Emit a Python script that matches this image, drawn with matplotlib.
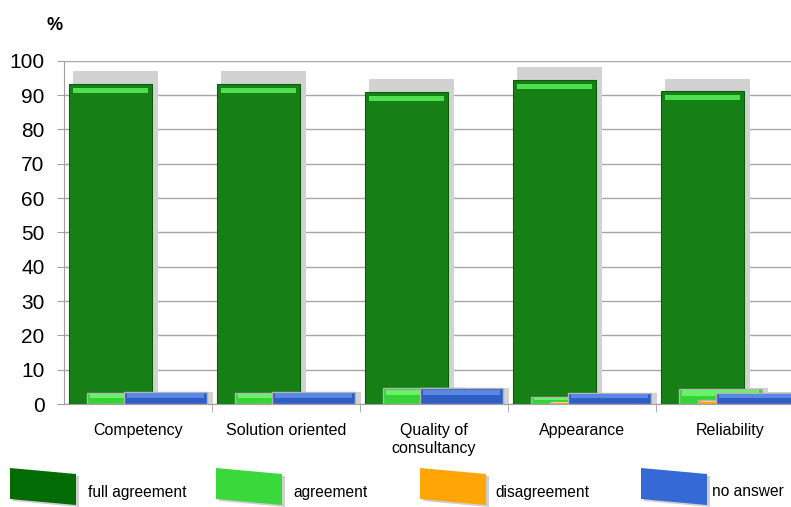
"""Satisfaction survey bar chart (full agreement / agreement / disagreement / no answer)."""
import matplotlib
matplotlib.use("Agg")
import matplotlib.pyplot as plt
import numpy as np
from matplotlib.patches import Polygon

plt.rcParams["font.family"] = ["Liberation Sans", "DejaVu Sans"]

categories = ["Competency", "Solution oriented", "Quality of\nconsultancy",
              "Appearance", "Reliability"]
series_names = ["full agreement", "agreement", "disagreement", "no answer"]
full_agreement = [93.3, 93.3, 90.9, 94.5, 91.1]
agreement = [3.3, 3.3, 4.6, 2.1, 4.5]
disagreement = [0.0, 0.0, 0.0, 0.6, 1.1]
no_answer = [3.4, 3.4, 4.6, 3.2, 3.3]

face = ["#168016", "#35d335", "#ffa200", "#2f5fc2"]
light = ["#4fe04f", "#6cf06c", "#ffd27a", "#5b88e6"]
legend_face = ["#036b03", "#3bd83b", "#ffa505", "#356ad6"]

fig = plt.figure(figsize=(7.91, 5.07), dpi=100)
ax = fig.add_axes([64 / 791, 103 / 507, 727 / 791, 343.3 / 507])

x = np.arange(len(categories))
width = 0.56
step = 0.125
values = [full_agreement, agreement, disagreement, no_answer]

# shadows first, behind everything
for k, vals in enumerate(values):
    v = np.array(vals)
    ax.bar(x + (k - 1.5) * step + 0.034, v * 1.04, width=0.575,
           color="#d2d2d2", linewidth=0, zorder=1)

for k, vals in enumerate(values):
    v = np.array(vals)
    pos = x + (k - 1.5) * step
    big = k == 0
    ax.bar(pos, v, width=width, color=face[k],
           edgecolor="#0d5c0d" if big else "#b4b4b4",
           linewidth=0.8 if big else 1.0, zorder=3 + k)
    if big:
        # bevel highlight near the top of the large bars
        ax.bar(pos, np.full_like(v, 1.4), bottom=v - 2.6, width=width - 0.05,
               color=light[k], linewidth=0, zorder=3 + k)
    else:
        ax.bar(pos, v * 0.35, bottom=v * 0.55, width=width - 0.04,
               color=light[k], linewidth=0, zorder=3 + k)

ax.set_xlim(-0.5, -0.5 + 727 / 148)
ax.set_ylim(0, 100)
ax.set_yticks(np.arange(0, 101, 10))
ax.tick_params(axis="y", labelsize=15, length=5, color="#a0a0a0", pad=9)
ax.set_xticks(x)
ax.set_xticklabels(categories, fontsize=11.5)
ax.set_xticks(x[:-1] + 0.5, minor=True)
ax.tick_params(axis="x", which="major", length=0, pad=14)
ax.tick_params(axis="x", which="minor", length=6, color="#a0a0a0")
ax.yaxis.grid(True, color="#a6a6a6", linewidth=1)
ax.set_axisbelow(True)
for s in ["top", "right"]:
    ax.spines[s].set_visible(False)
for s in ["left", "bottom"]:
    ax.spines[s].set_color("#a0a0a0")

fig.text(55 / 791, 1 - 25 / 507, "%", fontsize=13, fontweight="bold",
         ha="center", va="center")


def fx(px):
    return px / 791


def fy(py):
    return 1 - py / 507


# legend with skewed swatches
legend_x = [10, 216, 420, 641]
legend_text_x = [88, 293, 495, 712]
for k, name in enumerate(series_names):
    x0 = legend_x[k]
    pts = [(x0, 468), (x0 + 66, 474), (x0 + 66, 505), (x0, 499)]
    sh = [(px + 3, py + 2) for px, py in pts]
    fig.add_artist(Polygon([(fx(a), fy(b)) for a, b in sh], closed=True,
                           transform=fig.transFigure, facecolor="#cfcfcf",
                           edgecolor="none"))
    fig.add_artist(Polygon([(fx(a), fy(b)) for a, b in pts], closed=True,
                           transform=fig.transFigure, facecolor=legend_face[k],
                           edgecolor="none"))
    fig.text(fx(legend_text_x[k]), fy(492), name, fontsize=11.2,
             ha="left", va="center")

fig.savefig("out.png", dpi=100)
